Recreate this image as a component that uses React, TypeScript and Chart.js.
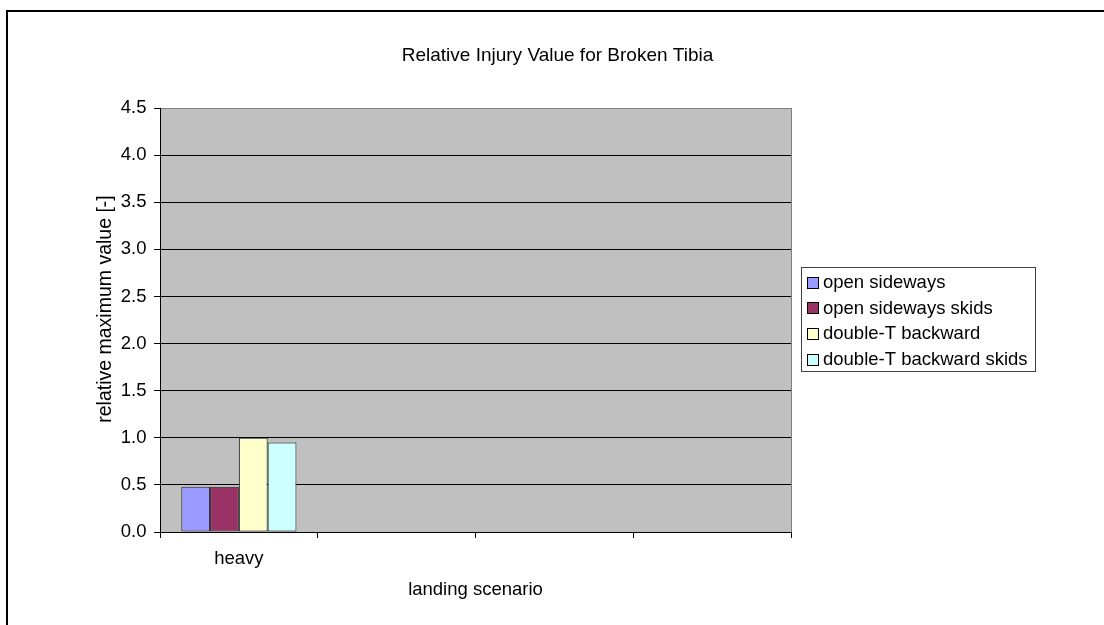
import { useEffect, useRef } from "react";
import { Chart, registerables } from "chart.js";

Chart.register(...registerables);

// Landing scenarios along the category axis (only the first one carries data)
const categories = ["heavy", "", "", ""];

// Relative maximum tibia injury value per configuration
const openSideways = [0.48, null, null, null];
const openSidewaysSkids = [0.48, null, null, null];
const doubleTBackward = [1.0, null, null, null];
const doubleTBackwardSkids = [0.95, null, null, null];

const seriesNames = [
  "open sideways",
  "open sideways skids",
  "double-T backward",
  "double-T backward skids",
];
const seriesColors = ["#9999FF", "#993366", "#FFFFCC", "#CCFFFF"];

const yMin = 0;
const yMax = 4.5;
const yStep = 0.5;

const chartTitle = "Relative Injury Value for Broken Tibia";
const yAxisTitle = "relative maximum value [-]";
const xAxisTitle = "landing scenario";

const FONT = "'Liberation Sans', Arial, Helvetica, sans-serif";
const SIZE = 18.5;

// Plot background, plot border, titles, legend box and outer frame
const framePlugin = {
  id: "excelFrame",
  beforeDraw(chart: any) {
    const { ctx, chartArea, width, height } = chart;
    ctx.save();
    ctx.fillStyle = "#FFFFFF";
    ctx.fillRect(0, 0, width, height);
    ctx.fillStyle = "#C0C0C0";
    ctx.fillRect(
      chartArea.left,
      chartArea.top,
      chartArea.right - chartArea.left,
      chartArea.bottom - chartArea.top
    );
    ctx.restore();
  },
  afterDraw(chart: any) {
    const { ctx, chartArea } = chart;
    ctx.save();
    // right edge of the plot area
    ctx.strokeStyle = "#808080";
    ctx.lineWidth = 1;
    ctx.beginPath();
    const rx = Math.round(chartArea.right) + 0.5;
    ctx.moveTo(rx, chartArea.top);
    ctx.lineTo(rx, chartArea.bottom);
    ctx.stroke();

    // chart title, centred on the whole chart
    ctx.fillStyle = "#000000";
    ctx.font = `19px ${FONT}`;
    ctx.textAlign = "center";
    ctx.textBaseline = "middle";
    ctx.fillText(chartTitle, 557.5, 55.3);

    // value axis title
    ctx.save();
    ctx.translate(105.5, 309);
    ctx.rotate(-Math.PI / 2);
    ctx.font = `19.5px ${FONT}`;
    ctx.fillText(yAxisTitle, 0, 0);
    ctx.restore();

    // legend
    const lx = 801.5;
    const ly = 267.5;
    const lw = 234;
    const lh = 104;
    ctx.fillStyle = "#FFFFFF";
    ctx.fillRect(lx, ly, lw, lh);
    ctx.strokeStyle = "#404040";
    ctx.strokeRect(lx, ly, lw, lh);
    ctx.font = `${SIZE}px ${FONT}`;
    ctx.textBaseline = "middle";
    ctx.textAlign = "left";
    chart.data.datasets.forEach((ds: any, i: number) => {
      const cy = 282 + i * 25.7;
      const sy = Math.round(cy - 5.5) + 0.5;
      ctx.fillStyle = ds.backgroundColor;
      ctx.fillRect(807.5, sy, 11, 11);
      ctx.strokeStyle = "#000000";
      ctx.strokeRect(807.5, sy, 11, 11);
      ctx.fillStyle = "#000000";
      ctx.fillText(ds.label, 823, cy + 1);
    });

    // outer chart frame
    ctx.strokeStyle = "#000000";
    ctx.lineWidth = 2;
    ctx.strokeRect(7, 11, 1110, 630);
    ctx.restore();
  },
};

export default function App() {
  const canvasRef = useRef<HTMLCanvasElement | null>(null);

  useEffect(() => {
    if (!canvasRef.current) return;
    const datasetValues = [openSideways, openSidewaysSkids, doubleTBackward, doubleTBackwardSkids];
    const chart = new Chart(canvasRef.current, {
      type: "bar",
      data: {
        labels: categories,
        datasets: datasetValues.map((values, i) => ({
          label: seriesNames[i],
          data: values,
          backgroundColor: seriesColors[i],
          borderColor: "#222222",
          borderWidth: 1,
          borderSkipped: false,
          categoryPercentage: 0.73,
          barPercentage: 1.0,
        })),
      },
      options: {
        responsive: false,
        animation: false,
        events: [],
        color: "#000000",
        font: { family: FONT, size: SIZE },
        layout: { padding: { left: 80, right: 313, top: 108, bottom: 0 } },
        plugins: {
          legend: { display: false },
          tooltip: { enabled: false },
          title: { display: false },
        },
        scales: {
          x: {
            type: "category",
            offset: true,
            grid: {
              offset: true,
              drawOnChartArea: false,
              drawTicks: true,
              tickLength: 6,
              tickColor: "#000000",
              color: "#000000",
            },
            border: { display: true, color: "#000000", width: 1 },
            ticks: {
              color: "#000000",
              font: { family: FONT, size: SIZE },
              padding: 9.5,
              maxRotation: 0,
              autoSkip: false,
            },
            title: {
              display: true,
              text: xAxisTitle,
              color: "#000000",
              font: { family: FONT, size: SIZE },
              padding: { top: 0, bottom: 24.3 },
            },
            afterFit: (scale: any) => {
              scale.height = 93;
            },
          },
          y: {
            min: yMin,
            max: yMax,
            grid: {
              color: (ctx: any) =>
                ctx.tick && ctx.tick.value === yMax ? "#808080" : "#000000",
              tickColor: "#000000",
              tickLength: 6,
              drawTicks: true,
            },
            border: { display: true, color: "#000000", width: 1 },
            ticks: {
              stepSize: yStep,
              color: "#000000",
              font: { family: FONT, size: SIZE },
              padding: 7.5,
              callback: (v: any) => Number(v).toFixed(1),
            },
            title: { display: false },
            afterFit: (scale: any) => {
              scale.width = 80;
            },
          },
        },
      },
      plugins: [framePlugin],
    });
    return () => chart.destroy();
  }, []);

  return (
    <div style={{ position: "fixed", left: 0, top: 0, width: 1104, height: 625, background: "#FFFFFF" }}>
      <canvas ref={canvasRef} width={1104} height={625} style={{ display: "block", width: 1104, height: 625 }} />
    </div>
  );
}
